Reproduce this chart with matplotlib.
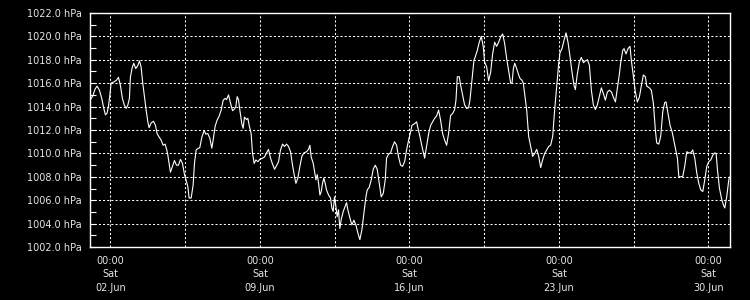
import pandas as pd
import matplotlib
matplotlib.use('Agg')
import matplotlib.pyplot as plt
from matplotlib.ticker import MultipleLocator, FuncFormatter

# hours since 2018-06-01 00:00 and air pressure (hPa)
hours = [
    1.0, 4.1, 6.7, 9.0, 11.6, 14.2, 16.5, 18.3, 20.2, 21.7, 23.2, 24.7, 27.7, 30.7,
    33.0, 35.2, 37.4, 39.7, 41.6, 43.4, 45.3, 46.4, 48.3, 50.2, 52.4, 54.7, 56.6,
    58.4, 60.3, 62.2, 64.1, 66.0, 67.4, 69.7, 72.3, 74.6, 76.4, 78.7, 80.9, 83.2,
    85.4, 87.3, 88.4, 89.9, 91.4, 93.7, 95.9, 98.2, 100.4, 102.7, 104.9, 107.2,
    109.4, 110.9, 112.4, 114.7, 116.9, 118.4, 120.3, 121.8, 124.4, 126.7, 129.3,
    131.2, 133.4, 135.7, 137.9, 139.4, 141.7, 143.9, 146.2, 148.4, 150.7, 152.9,
    154.4, 156.7, 158.9, 161.2, 163.4, 164.9, 166.4, 167.9, 169.4, 171.6, 173.1,
    174.6, 176.9, 178.4, 179.9, 182.1, 183.6, 185.5, 187.4, 189.6, 191.9, 194.9,
    197.1, 199.4, 201.6, 203.9, 206.1, 208.4, 210.6, 212.9, 215.1, 217.4, 219.6,
    221.9, 224.1, 226.4, 228.6, 230.9, 232.4, 234.6, 236.9, 239.1, 241.4, 244.4,
    246.6, 248.1, 249.6, 251.9, 253.4, 254.9, 256.4, 257.9, 259.4, 260.9, 262.3,
    263.8, 265.3, 266.8, 269.1, 271.3, 272.8, 274.3, 275.8, 277.3, 278.8, 280.3,
    281.8, 283.3, 285.6, 287.8, 289.3, 290.8, 293.1, 295.3, 297.6, 299.8, 302.1,
    304.3, 306.6, 308.8, 311.1, 312.6, 314.8, 317.1, 319.3, 321.6, 323.8, 326.1,
    328.3, 330.6, 332.8, 334.3, 336.6, 338.8, 341.1, 343.3, 345.6, 347.8, 350.1,
    352.3, 354.6, 356.8, 359.1, 361.3, 362.8, 365.8, 368.1, 369.6, 371.8, 374.1,
    377.1, 379.3, 381.6, 383.8, 386.1, 388.3, 390.5, 392.8, 395.0, 397.3, 399.5,
    401.8, 404.0, 406.3, 408.5, 410.8, 412.3, 413.8, 416.0, 417.5, 419.8, 422.0,
    424.3, 426.5, 428.0, 430.3, 432.5, 434.0, 436.3, 438.5, 440.8, 443.0, 444.5,
    446.8, 449.0, 451.3, 453.5, 455.8, 458.0, 460.3, 462.5, 464.8, 467.0, 469.3,
    471.5, 473.8, 475.3, 476.8, 478.3, 480.5, 482.8, 484.3, 486.5, 488.0, 489.5,
    491.8, 494.0, 496.3, 498.5, 500.8, 503.0, 505.3, 507.5, 509.7, 512.0, 514.2,
    516.5, 518.7, 521.0, 523.2, 525.5, 527.7, 529.2, 531.5, 533.7, 536.0, 538.2,
    540.5, 542.7, 545.0, 546.5, 548.7, 551.0, 553.2, 555.5, 557.7, 560.0, 562.2,
    564.5, 566.7, 569.0, 571.2, 573.5, 575.7, 578.0, 580.2, 582.5, 584.7, 587.0,
    589.2, 591.5, 593.7, 596.0, 597.5, 599.7, 601.2, 603.4, 605.7, 607.9, 609.4,
    611.7, 613.9, 616.2, 618.4, 620.7, 622.9, 625.2, 626.7, 629.7, 631.9, 634.2,
    636.4, 637.9, 640.2, 642.4, 644.7, 646.9, 648.4, 650.7, 652.9, 655.2, 657.4,
    659.7, 661.2, 662.7, 664.9, 667.2, 669.4, 671.7, 673.9, 676.2, 678.4, 680.7,
    682.9, 685.2, 687.4, 689.7, 691.9, 694.2, 696.4, 698.7, 700.9, 703.2, 704.7,
    706.2, 708.4, 710.6, 712.9, 714.4, 716.6, 718.9, 720.0,
]
pressure = [
    1014.55, 1014.9, 1015.5, 1015.75, 1015.4, 1014.7, 1013.85, 1013.3, 1013.45, 1014.0,
    1014.9, 1016.0, 1016.1, 1016.25, 1016.5, 1015.8, 1014.7, 1014.1, 1013.85, 1014.1,
    1014.7, 1016.5, 1017.3, 1017.7, 1017.25, 1017.5, 1017.9, 1017.4, 1016.0, 1014.85,
    1013.7, 1012.7, 1012.2, 1012.6, 1012.75, 1012.4, 1011.7, 1011.4, 1011.15, 1010.7,
    1010.8, 1010.3, 1009.9, 1009.15, 1008.4, 1008.9, 1009.4, 1009.0, 1009.0, 1009.5,
    1009.15, 1008.2, 1007.6, 1007.2, 1006.2, 1006.2, 1007.3, 1009.15, 1010.3, 1010.4,
    1010.5, 1011.4, 1011.95, 1011.65, 1011.7, 1011.3, 1010.45, 1011.15, 1012.35, 1012.85,
    1013.2, 1013.7, 1014.55, 1014.7, 1014.6, 1015.0, 1014.3, 1013.65, 1013.8, 1014.0,
    1014.85, 1014.6, 1013.7, 1012.55, 1012.15, 1013.1, 1012.9, 1013.0, 1012.4, 1011.7,
    1010.05, 1009.15, 1009.45, 1009.3, 1009.5, 1009.6, 1009.7, 1010.05, 1010.35, 1009.6,
    1009.1, 1008.65, 1008.95, 1009.3, 1010.3, 1010.8, 1010.6, 1010.8, 1010.6, 1010.15,
    1009.0, 1008.0, 1007.45, 1007.9, 1008.9, 1009.75, 1010.05, 1010.15, 1010.35, 1010.7,
    1009.7, 1009.15, 1008.45, 1007.75, 1008.2, 1007.45, 1006.45, 1006.75, 1007.45, 1007.9,
    1007.45, 1006.9, 1006.45, 1006.2, 1005.35, 1005.05, 1006.3, 1005.5, 1004.6, 1005.2,
    1003.6, 1004.35, 1005.05, 1005.5, 1005.8, 1005.2, 1004.5, 1003.9, 1004.3, 1003.9,
    1003.2, 1002.65, 1003.5, 1004.9, 1006.3, 1006.9, 1007.1, 1007.75, 1008.65, 1009.0,
    1008.65, 1007.45, 1006.3, 1006.6, 1007.75, 1009.6, 1009.95, 1010.05, 1010.6, 1011.0,
    1010.7, 1009.7, 1009.0, 1008.9, 1009.3, 1010.3, 1011.15, 1011.85, 1012.4, 1012.55,
    1012.7, 1012.15, 1011.45, 1010.6, 1009.6, 1010.6, 1011.7, 1012.4, 1012.7, 1013.0,
    1013.2, 1013.7, 1012.85, 1011.7, 1011.15, 1010.7, 1011.7, 1013.25, 1013.4, 1013.75,
    1014.55, 1016.55, 1016.55, 1015.85, 1015.0, 1014.15, 1013.85, 1013.9, 1014.55, 1016.25,
    1017.95, 1018.25, 1018.8, 1019.5, 1020.0, 1019.1, 1017.8, 1017.4, 1016.2, 1016.95,
    1018.5, 1019.5, 1019.15, 1019.5, 1019.95, 1020.2, 1019.4, 1018.1, 1017.1, 1016.0,
    1016.0, 1017.25, 1017.7, 1017.25, 1016.7, 1016.4, 1016.25, 1016.0, 1015.1, 1013.7,
    1011.45, 1010.6, 1009.75, 1010.0, 1010.35, 1009.75, 1008.8, 1009.45, 1010.0, 1010.3,
    1010.6, 1010.7, 1011.45, 1013.7, 1015.7, 1017.65, 1018.6, 1018.95, 1019.65, 1020.3,
    1019.5, 1018.25, 1016.95, 1015.8, 1015.45, 1016.8, 1017.8, 1018.2, 1017.75, 1017.9,
    1018.0, 1017.55, 1015.4, 1014.15, 1013.75, 1014.15, 1014.9, 1015.6, 1015.1, 1014.55,
    1015.25, 1015.4, 1015.25, 1014.8, 1014.4, 1015.55, 1016.8, 1017.8, 1018.8, 1018.95,
    1018.5, 1018.95, 1019.15, 1017.95, 1016.55, 1015.25, 1014.4, 1014.8, 1015.8, 1016.7,
    1016.55, 1015.75, 1015.6, 1015.4, 1014.25, 1012.0, 1010.9, 1010.8, 1011.45, 1013.55,
    1014.35, 1014.4, 1013.4, 1012.4, 1011.85, 1011.0, 1010.15, 1009.6, 1008.05, 1008.0,
    1008.05, 1008.9, 1010.15, 1010.05, 1010.05, 1010.3, 1009.6, 1008.35, 1007.45, 1006.9,
    1006.75, 1007.75, 1008.9, 1009.3, 1009.45, 1009.85, 1010.05, 1010.0, 1008.6, 1007.05,
    1006.2, 1005.6, 1005.35, 1006.3, 1007.75, 1008.0,
]

start = pd.Timestamp('2018-06-01 00:00')
label_days = pd.date_range('2018-06-02', periods=5, freq='7D')
grid_days = pd.date_range('2018-06-05 12:00', periods=4, freq='7D')

times = start + pd.to_timedelta(hours, unit='h')

fig = plt.figure(figsize=(7.5, 3), dpi=100, facecolor='black')
ax = fig.add_axes([0.12, 0.176, 0.853, 0.781])
ax.set_facecolor('black')

ax.plot(times, pressure, color='white', lw=0.8)

ax.set_xlim(times[0], times[-1])
ax.set_ylim(1002, 1022)

ax.yaxis.set_major_locator(MultipleLocator(2))
ax.yaxis.set_minor_locator(MultipleLocator(1))
ax.yaxis.set_major_formatter(FuncFormatter(lambda v, p: f'{v:.1f} hPa'))

ax.set_xticks(label_days)
ax.set_xticklabels([d.strftime('%H:%M\n%a\n%d.%b') for d in label_days])
ax.set_xticks(grid_days, minor=True)
for lab in ax.get_xticklabels():
    lab.set_linespacing(1.45)

dots = (0, (2, 2))
ax.xaxis.grid(True, which='both', color='white', linestyle=dots, lw=0.75)
ax.yaxis.grid(True, which='major', color='white', linestyle=dots, lw=0.75)

ax.tick_params(axis='x', which='both', length=0, pad=6, labelsize=7,
               labelcolor='#e6e6e6')
ax.tick_params(axis='y', which='both', direction='in', length=4, width=0.8,
               color='white', labelcolor='#e6e6e6', labelsize=7, pad=6)

for s in ax.spines.values():
    s.set_color('white')
    s.set_linewidth(1)

plt.savefig('out.png', dpi=100, facecolor='black')
plt.close()
